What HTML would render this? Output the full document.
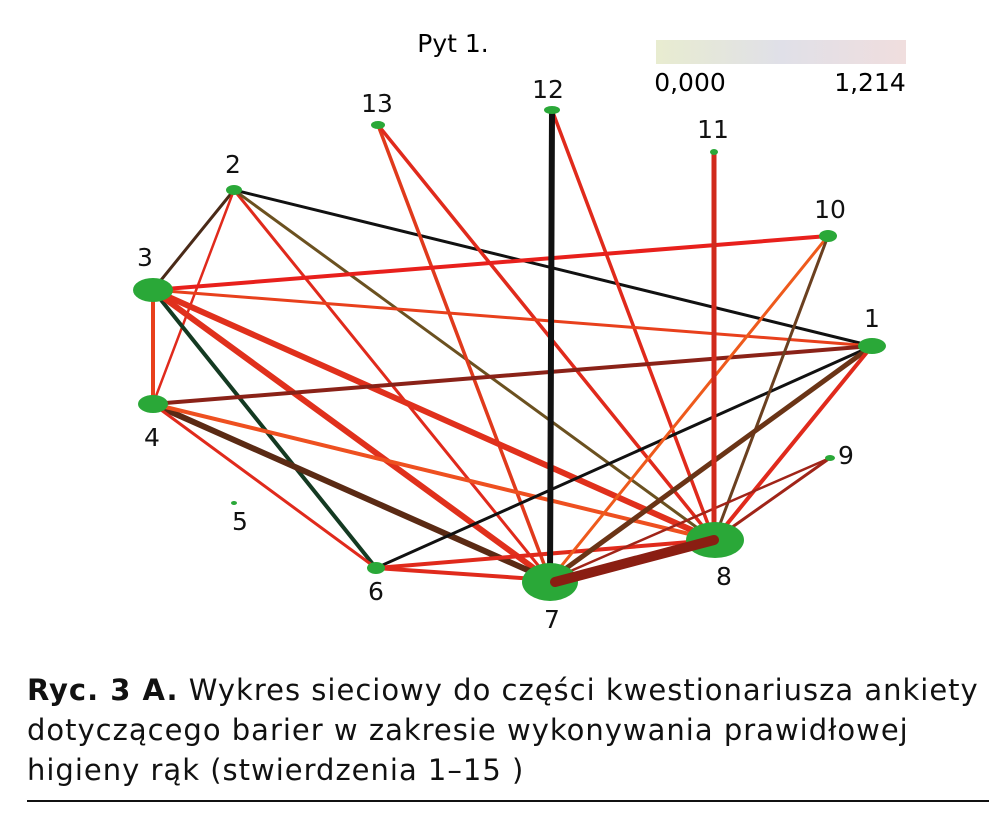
<!DOCTYPE html>
<html><head><meta charset="utf-8"><style>
body{margin:0;background:#fff;width:1000px;height:825px;overflow:hidden;font-family:"DejaVu Sans","Liberation Sans",sans-serif;}
.cap{position:absolute;left:27px;top:670px;font-size:29px;letter-spacing:1px;line-height:40px;color:#111;white-space:nowrap;}
</style></head><body>
<svg width="1000" height="660" style="position:absolute;left:0;top:0" font-family="DejaVu Sans, Liberation Sans, sans-serif" font-size="25">
<defs><linearGradient id="g" x1="0" x2="1"><stop offset="0" stop-color="#e8ecd0"/><stop offset="0.5" stop-color="#e0e0e8"/><stop offset="1" stop-color="#f0dede"/></linearGradient></defs>
<rect x="656" y="40" width="250" height="24" fill="url(#g)"/>
<text x="453" y="52" text-anchor="middle">Pyt 1.</text>
<text x="690" y="91" text-anchor="middle">0,000</text>
<text x="870" y="91" text-anchor="middle">1,214</text>
<g stroke-linecap="round" fill="none">
<line x1="234" y1="190" x2="872" y2="346" stroke="#111" stroke-width="3"/>
<line x1="234" y1="190" x2="153" y2="290" stroke="#4a2a18" stroke-width="3"/>
<line x1="234" y1="190" x2="153" y2="404" stroke="#e02a1c" stroke-width="2.5"/>
<line x1="234" y1="190" x2="550" y2="580" stroke="#e02a1c" stroke-width="3"/>
<line x1="234" y1="190" x2="714" y2="540" stroke="#6b5120" stroke-width="3"/>
<line x1="378" y1="125" x2="550" y2="580" stroke="#e03a1c" stroke-width="3.5"/>
<line x1="378" y1="125" x2="714" y2="540" stroke="#e02a1c" stroke-width="3.5"/>
<line x1="552" y1="110" x2="714" y2="540" stroke="#e02a1c" stroke-width="3.5"/>
<line x1="153" y1="290" x2="828" y2="236" stroke="#e8201c" stroke-width="4"/>
<line x1="153" y1="290" x2="872" y2="346" stroke="#e8401c" stroke-width="3"/>
<line x1="153" y1="290" x2="153" y2="404" stroke="#e8401c" stroke-width="4"/>
<line x1="153" y1="290" x2="376" y2="568" stroke="#143a22" stroke-width="4"/>
<line x1="153" y1="290" x2="550" y2="580" stroke="#e0301c" stroke-width="6"/>
<line x1="153" y1="290" x2="714" y2="540" stroke="#e0301c" stroke-width="6"/>
<line x1="153" y1="404" x2="872" y2="346" stroke="#8a2218" stroke-width="4"/>
<line x1="153" y1="404" x2="550" y2="580" stroke="#5a2a14" stroke-width="6"/>
<line x1="153" y1="404" x2="714" y2="540" stroke="#ee5020" stroke-width="4"/>
<line x1="153" y1="404" x2="376" y2="568" stroke="#e02a1c" stroke-width="3"/>
<line x1="376" y1="568" x2="872" y2="346" stroke="#111" stroke-width="3"/>
<line x1="376" y1="568" x2="550" y2="580" stroke="#e02a1c" stroke-width="4"/>
<line x1="376" y1="568" x2="714" y2="540" stroke="#e02a1c" stroke-width="4"/>
<line x1="550" y1="580" x2="828" y2="236" stroke="#ee5a1c" stroke-width="3"/>
<line x1="714" y1="540" x2="828" y2="236" stroke="#6b4020" stroke-width="3"/>
<line x1="550" y1="580" x2="872" y2="346" stroke="#6a3416" stroke-width="5"/>
<line x1="714" y1="540" x2="872" y2="346" stroke="#e02a1c" stroke-width="4"/>
<line x1="714" y1="540" x2="830" y2="458" stroke="#a02418" stroke-width="3"/>
<line x1="550" y1="580" x2="830" y2="458" stroke="#a02418" stroke-width="2.5"/>
<line x1="552" y1="110" x2="550" y2="580" stroke="#111" stroke-width="6"/>
<line x1="714" y1="152" x2="714" y2="540" stroke="#d02a1c" stroke-width="5"/>
</g>
<g fill="#2aa838">
<ellipse cx="872" cy="346" rx="14" ry="8"/>
<ellipse cx="234" cy="190" rx="8" ry="5"/>
<ellipse cx="153" cy="290" rx="20" ry="12"/>
<ellipse cx="153" cy="404" rx="15" ry="9"/>
<ellipse cx="234" cy="503" rx="3" ry="2"/>
<ellipse cx="376" cy="568" rx="9" ry="6"/>
<ellipse cx="550" cy="582" rx="28" ry="19"/>
<ellipse cx="715" cy="540" rx="29" ry="18"/>
<ellipse cx="830" cy="458" rx="5" ry="3"/>
<ellipse cx="828" cy="236" rx="9" ry="6"/>
<ellipse cx="714" cy="152" rx="4" ry="3"/>
<ellipse cx="552" cy="110" rx="8" ry="4"/>
<ellipse cx="378" cy="125" rx="7" ry="4"/>
</g>
<line x1="555" y1="582" x2="714" y2="540" stroke="#8a1e12" stroke-width="10" stroke-linecap="round"/>
<g fill="#111" text-anchor="middle">
<text x="872" y="327">1</text><text x="233" y="173">2</text><text x="145" y="266">3</text>
<text x="152" y="446">4</text><text x="240" y="530">5</text><text x="376" y="600">6</text>
<text x="552" y="628">7</text><text x="724" y="585">8</text><text x="846" y="464">9</text>
<text x="830" y="218">10</text><text x="713" y="138">11</text><text x="548" y="98">12</text>
<text x="377" y="112">13</text>
</g>
</svg>
<div class="cap"><b>Ryc. 3 A.</b> Wykres sieciowy do części kwestionariusza ankiety<br>dotyczącego barier w zakresie wykonywania prawidłowej<br>higieny rąk (stwierdzenia 1–15 )</div>
<div style="position:absolute;left:27px;top:800px;width:962px;height:2px;background:#111"></div>
</body></html>
